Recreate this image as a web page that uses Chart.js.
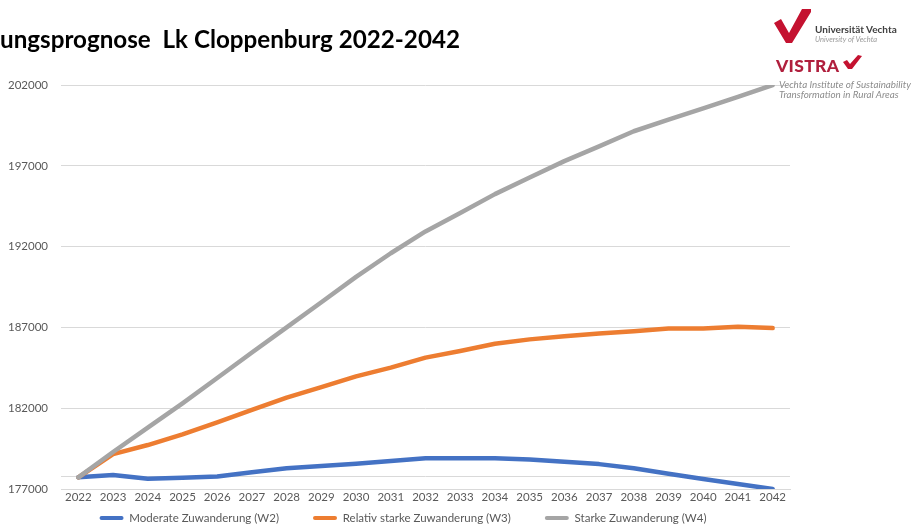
<!DOCTYPE html>
<html>
<head>
<meta charset="utf-8">
<script src="https://cdn.jsdelivr.net/npm/chart.js@4.4.0/dist/chart.umd.min.js"></script>
<style>
  html, body { margin: 0; padding: 0; background: #ffffff; }
  #wrap { position: relative; width: 914px; height: 529px; overflow: hidden; background: #fff; }
  #c { position: absolute; left: 0; top: 0; }
  .lg { position: absolute; font-family: Lato, "Open Sans", sans-serif; white-space: nowrap; line-height: 1; }
  svg.mark { position: absolute; left: 0; top: 0; }
</style>
</head>
<body>
<div id="wrap">
  <canvas id="c" width="914" height="529"></canvas>
  <svg class="mark" width="914" height="110" viewBox="0 0 914 110">
    <polygon points="774,23 781,19 789,33 802,9 811,9 811,12 792,43 786,43" fill="#c41230"/>
    <polygon points="843,62 847,60 850,64 858,55 862,56 852,69 848,69" fill="#c41230"/>
  </svg>
  <div class="lg" style="left:815px;top:24px;font-size:10px;font-weight:bold;color:#404040;">Universität Vechta</div>
  <div class="lg" style="left:815px;top:36px;font-size:7.5px;font-style:italic;color:#9a9a9a;">University of Vechta</div>
  <div class="lg" style="left:776px;top:57px;font-size:17.5px;font-weight:900;color:#b01f3d;letter-spacing:0.3px;">VISTRA</div>
  <div class="lg" style="left:779px;top:80px;font-size:9.8px;font-style:italic;color:#8c8c8c;">Vechta Institute of Sustainability</div>
  <div class="lg" style="left:779px;top:90px;font-size:9.8px;font-style:italic;color:#8c8c8c;">Transformation in Rural Areas</div>
</div>
<script>
// ---- data ----
const years = ['2022','2023','2024','2025','2026','2027','2028','2029','2030','2031','2032','2033','2034','2035','2036','2037','2038','2039','2040','2041','2042'];
const moderateW2 = [177720,177860,177640,177700,177780,178030,178280,178430,178570,178730,178910,178910,178910,178830,178690,178540,178280,177940,177620,177310,177000];
const relativW3  = [177720,179160,179720,180380,181120,181900,182660,183310,183970,184510,185130,185540,185990,186260,186460,186630,186770,186940,186940,187040,186960];
const starkeW4   = [177720,179290,180800,182300,183870,185450,187000,188560,190130,191590,192940,194080,195250,196280,197290,198200,199140,199860,200560,201270,202000];
const seriesNames = ['Moderate Zuwanderung (W2)','Relativ starke Zuwanderung (W3)','Starke Zuwanderung (W4)'];
const yTickValues = [177000,182000,187000,192000,197000,202000];
const extraGridValue = 177750;
const titleText = 'ungsprognose  Lk Cloppenburg 2022-2042';

const FONT = 'Lato, "Open Sans", sans-serif';
const colors = ['#4472C4','#ED7D31','#A5A5A5'];

function ds(label, data, color, order) {
  return {
    label, data,
    borderColor: color, backgroundColor: color,
    borderWidth: 4.5, pointRadius: 0, pointHoverRadius: 0,
    tension: 0, borderCapStyle: 'round', borderJoinStyle: 'round',
    fill: false, order
  };
}

const legendShift = {
  id: 'legendShift',
  afterLayout(chart) {
    const L = chart.legend;
    if (!L) return;
    const pad = L.options.labels.padding;
    const fs = L.options.labels.font.size || 11.5;
    const targetMid = 518;
    L.top = targetMid - pad - fs / 2;
    L.bottom = chart.height;
    L.left += 8; L.right += 8;
  }
};

new Chart(document.getElementById('c'), {
  type: 'line',
  data: {
    labels: years,
    datasets: [
      ds(seriesNames[0], moderateW2, colors[0], 3),
      ds(seriesNames[1], relativW3, colors[1], 2),
      ds(seriesNames[2], starkeW4, colors[2], 1)
    ]
  },
  options: {
    responsive: false,
    animation: false,
    layout: { padding: { left: 0, right: 124, top: 0, bottom: 0 } },
    plugins: {
      title: {
        display: true, text: titleText, align: 'start', color: '#000000',
        font: { family: FONT, size: 24.2, weight: 'bold' },
        padding: { top: 26, bottom: 30 }
      },
      legend: {
        display: true, position: 'bottom', align: 'center', maxHeight: 24,
        labels: {
          color: '#595959', font: { family: FONT, size: 11.5 },
          boxWidth: 24, boxHeight: 4, padding: 34,
          sort: (a, b) => a.datasetIndex - b.datasetIndex,
          generateLabels(chart) {
            const items = Chart.defaults.plugins.legend.labels.generateLabels(chart);
            items.forEach(it => { it.lineWidth = 0; it.borderRadius = 2; });
            return items;
          }
        }
      },
      tooltip: { enabled: false }
    },
    scales: {
      x: {
        type: 'category', offset: true,
        grid: { display: false, drawTicks: false },
        border: { display: true, color: '#d9d9d9', width: 1 },
        ticks: { color: '#595959', font: { family: FONT, size: 11.5 }, padding: 1, autoSkip: false, maxRotation: 0 },
        afterFit(s) { s.height = 16; }
      },
      y: {
        min: 177000, max: 202000,
        grid: { color: '#d9d9d9', lineWidth: 1, drawTicks: false },
        border: { display: false },
        ticks: {
          color: '#595959', font: { family: FONT, size: 11.5 }, padding: 13,
          callback: v => (yTickValues.includes(v) ? String(v) : '')
        },
        afterBuildTicks(s) {
          s.ticks = [...yTickValues, extraGridValue].sort((a, b) => a - b).map(v => ({ value: v }));
        },
        afterFit(s) { s.width = 61; }
      }
    }
  },
  plugins: [legendShift]
});
</script>
</body>
</html>
